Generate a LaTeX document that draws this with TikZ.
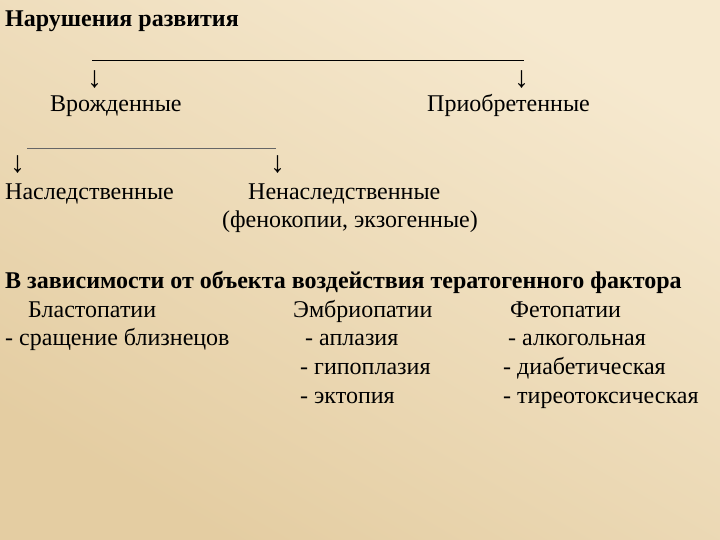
\documentclass[tikz,border=0pt]{standalone}
\usepackage{fontspec}
\setmainfont{Liberation Serif}
\definecolor{bgA}{HTML}{F6E9CF}
\definecolor{bgB}{HTML}{E4CDA2}
\begin{document}
\begin{tikzpicture}[x=1pt,y=-1pt,
  t/.style={anchor=base west,inner sep=0pt,font=\fontsize{24}{26}\selectfont},
  tb/.style={t,font=\fontsize{24}{26}\selectfont\bfseries},
  ar/.style={t,font=\fontsize{30}{32}\selectfont},
  rule/.style={line width=0.8pt}]
\shade[top color=bgA, bottom color=bgB, shading angle=-30]
  (0,0) rectangle (720,540);
\useasboundingbox (0,0) rectangle (720,540);
\node[tb] (n1) at (5,27) {Нарушения развития};
\coordinate (l1a) at (92,60); \coordinate (l1b) at (524,60);
\draw[rule] (l1a) -- (l1b);
\node[ar] (a1) at (87,88) {↓};
\node[ar] (a2) at (514,88) {↓};
\node[t] (v) at (50,112) {Врожденные};
\node[t] (p) at (427,112) {Приобретенные};
\coordinate (l2a) at (27,148); \coordinate (l2b) at (276,148);
\draw[line width=0.5pt,black!60] (l2a) -- (l2b);
\node[ar] (a3) at (10,173) {↓};
\node[ar] (a4) at (270,173) {↓};
\node[t] (h) at (5,200) {Наследственные};
\node[t] (nh) at (248,200) {Ненаследственные};
\node[t] (f) at (222,228) {(фенокопии, экзогенные)};
\node[tb] (z) at (5,288) {В зависимости от объекта воздействия тератогенного фактора};
\node[t] (b) at (28,317) {Бластопатии};
\node[t] (e) at (293,317) {Эмбриопатии};
\node[t] (fe) at (510,317) {Фетопатии};
\node[t] (b1) at (5,345) {- сращение близнецов};
\node[t] (e1) at (305,345) {- аплазия};
\node[t] (f1) at (508,345) {- алкогольная};
\node[t] (e2) at (300,374) {- гипоплазия};
\node[t] (f2) at (503,374) {- диабетическая};
\node[t] (e3) at (300,403) {- эктопия};
\node[t] (f3) at (503,403) {- тиреотоксическая};
\end{tikzpicture}
\end{document}
